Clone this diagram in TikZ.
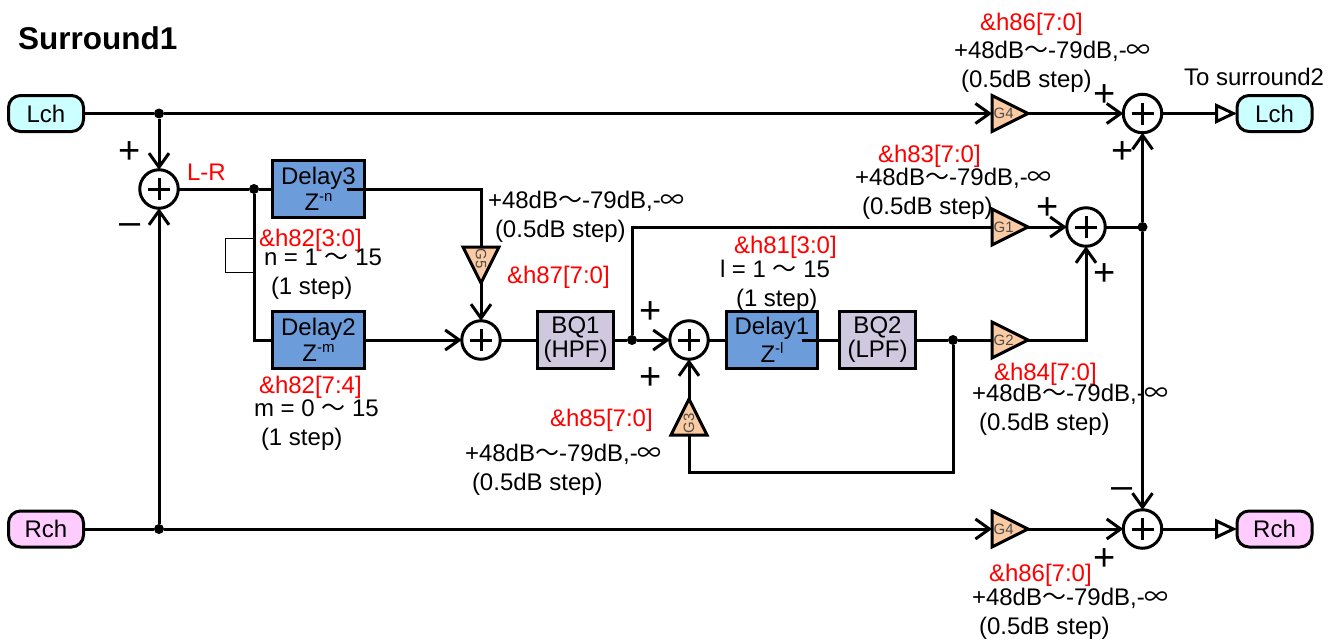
\documentclass[tikz,border=0pt]{standalone}
\usepackage{fontspec}
\setmainfont{Liberation Sans}
\newfontfamily\cjk{Noto Sans CJK JP}
\usepackage{tikz}
\usetikzlibrary{positioning,arrows.meta,shapes.geometric}

\definecolor{lchfill}{HTML}{CCFFFF}
\definecolor{rchfill}{HTML}{FFCCFF}
\definecolor{delayfill}{HTML}{6D9CDA}
\definecolor{bqfill}{HTML}{CFC8DF}
\definecolor{gainfill}{HTML}{FBCBA3}
\newcommand{\wave}{{\cjk 〜}}
\newcommand{\infsym}{{\cjk ∞}}
\newcommand{\zexp}[1]{Z\raisebox{9pt}{\fontsize{15}{15}\selectfont -#1}}
\newcommand{\dbrange}{+48dB\wave-79dB,-\infsym\\\hspace{7pt}(0.5dB step)}

\begin{document}
\begin{tikzpicture}[
  x=1pt, y=-1pt, on grid,
  line width=3pt,
  every node/.style={outer sep=0pt},
  txt/.style={font=\fontsize{24}{29}\selectfont, inner sep=0pt, align=left, anchor=west, xshift=-1pt, yshift=-2pt},
  reg/.style={txt, text=red},
  sign/.style={font=\fontsize{38}{38}\selectfont, inner sep=0pt, yshift=-2pt},
  port/.style={draw, rounded corners=12pt, minimum width=75pt, minimum height=36pt, inner sep=0pt,
               font=\fontsize{24}{26}\selectfont},
  delay/.style={draw, fill=delayfill, minimum width=91.5pt, minimum height=56.5pt, inner sep=0pt, align=center,
               font=\fontsize{24}{24}\selectfont, execute at begin node={\rule{0pt}{21pt}}},
  bq/.style={draw, fill=bqfill, minimum width=76pt, minimum height=56.5pt, inner sep=0pt, align=center,
               font=\fontsize{24}{24}\selectfont, execute at begin node={\rule{0pt}{21pt}}},
  gain/.style={draw, fill=gainfill, isosceles triangle, isosceles triangle stretches, inner sep=0pt,
               minimum width=36pt, minimum height=36pt, text=black!70, font=\fontsize{15}{15}\selectfont},
  sum/.style={draw, circle, fill=white, minimum size=38.5pt, inner sep=0pt,
               path picture={\draw ([xshift=-11pt]path picture bounding box.center) -- ([xshift=11pt]path picture bounding box.center);
                             \draw ([yshift=-11pt]path picture bounding box.center) -- ([yshift=11pt]path picture bounding box.center);}},
  dot/.style={circle, fill=black, minimum size=10pt, inner sep=0pt},
  flow/.style={-{Straight Barb[length=14pt,width=20pt]}},
  outflow/.style={-{Triangle[open,fill=white,length=22pt,width=20pt]}}
]
\useasboundingbox (0,0) rectangle (1341,642);

\node[txt, font=\fontsize{31.5}{32}\selectfont\bfseries] (title) at (19,36) {Surround1};

% input row
\node[port, fill=lchfill] (lchin) at (46,113.5) {Lch};
\node[port, fill=rchfill] (rchin) at (46,529) {Rch};
\node[dot, right=113pt of lchin] (jl) {};
\node[dot, right=113pt of rchin] (jr) {};
\node[sum, below=75.5pt of jl] (sum1) {};
\node[dot, right=95pt of sum1] (jd) {};
\node[delay, right=159.5pt of sum1] (d3) {Delay3\\[2pt]\zexp{n}};
\node[delay, below=151pt of d3] (d2) {Delay2\\[2pt]\zexp{m}};
\coordinate (d3o) at (347,189);

% middle row
\node[sum, right=162.5pt of d2] (sum2) {};
\node[bq, right=94.5pt of sum2] (bq1) {BQ1\\(HPF)};
\node[dot, right=56.5pt of bq1] (jb) {};
\node[sum, right=57pt of jb] (sum3) {};
\node[delay, right=83pt of sum3] (d1) {Delay1\\[2pt]\zexp{l}};
\node[bq, right=105.5pt of d1] (bq2) {BQ2\\(LPF)};
\node[dot, right=75.5pt of bq2] (j3) {};
\coordinate (d1o) at (802,340);
\coordinate (fb) at (689,472);

% gains
\node[gain, anchor=lower side] (g4l) at (992,113.5) {G4};
\node[gain, anchor=lower side] (g1) at (992,227) {G1};
\node[gain, anchor=lower side] (g2) at (992,340) {G2};
\node[gain, anchor=lower side] (g4r) at (992,529) {G4};
\node[gain, anchor=lower side, rotate=-90] (g5) at (481,247) {G5};
\node[gain, anchor=lower side, rotate=90] (g3) at (689,435) {G3};

% output side
\node[sum] (sum4) at (1142.5,113.5) {};
\node[sum] (sum5) at (1086,227) {};
\node[sum] (sum6) at (1142.5,529) {};
\node[dot, right=56.5pt of sum5] (j5) {};
\node[port, fill=lchfill] (lchout) at (1274.5,113.5) {Lch};
\node[port, fill=rchfill] (rchout) at (1274.5,529) {Rch};

\draw (lchin) -- (jl);
\draw[flow] (jl) -- (g4l.lower side);
\draw[flow] (jl) -- (sum1);
\draw (rchin) -- (jr);
\draw[flow] (jr) -- (g4r.lower side);
\draw[flow] (jr) -- (sum1);
\draw (sum1) -- (jd) -- (d3);
\draw (jd) |- (d2);
\draw (d3o) -| (g5.lower side);
\draw[flow] (g5.apex) -- (sum2);
\draw[flow] (d2) -- (sum2);
\draw (sum2) -- (bq1);
\draw (bq1) -- (jb);
\draw[flow] (jb) -- (sum3);
\draw (jb) |- (g1.lower side);
\draw (sum3) -- (d1);
\draw (d1o) -- (bq2);
\draw (bq2) -- (j3);
\draw (j3) -- (g2.lower side);
\draw (j3) |- (fb) -- (g3.lower side);
\draw[flow] (g3.apex) -- (sum3);
\draw[flow] (g1.apex) -- (sum5);
\draw[flow] (g2.apex) -| (sum5);
\draw (sum5) -- (j5);
\draw[flow] (j5) -- (sum4);
\draw[flow] (j5) -- (sum6);
\draw[flow] (g4l.apex) -- (sum4);
\draw[flow] (g4r.apex) -- (sum6);
\draw[outflow] (sum4) -- (lchout);
\draw[outflow] (sum6) -- (rchout);

% small loop beside the delay line
\draw[line width=1pt] (254,238.5) -- (225.5,238.5) -- (225.5,272) -- (254,272);

% signs
\node[sign] (s1) at (130,151) {+};
\node[sign] (s2) at (130,227) {–};
\node[sign] (s3) at (651,311) {+};
\node[sign] (s4) at (651,377) {+};
\node[sign] (s5) at (1105,94) {+};
\node[sign] (s6) at (1123,151) {+};
\node[sign] (s7) at (1048,207) {+};
\node[sign] (s8) at (1105,273) {+};
\node[sign] (s9) at (1122,491) {–};
\node[sign] (s10) at (1105,558) {+};

% labels
\node[reg] (lr) at (188,170) {L-R};
\node[txt] (tosur) at (1185,75) {To surround2};
\node[reg] (r86a) at (981,22) {\&h86[7:0]};
\node[txt] (t86a) at (955,65) {\dbrange};
\node[reg] (r83) at (879,154) {\&h83[7:0]};
\node[txt] (t83) at (856,192) {\dbrange};
\node[reg] (r87) at (508,275) {\&h87[7:0]};
\node[txt] (t87) at (489,215) {\dbrange};
\node[reg] (r85) at (551,418) {\&h85[7:0]};
\node[txt] (t85) at (466,468) {\dbrange};
\node[reg] (r84) at (995,372) {\&h84[7:0]};
\node[txt] (t84) at (973,408) {\dbrange};
\node[reg] (r86b) at (990,573) {\&h86[7:0]};
\node[txt] (t86b) at (973,612) {\dbrange};
\node[reg] (r82a) at (260,238) {\&h82[3:0]};
\node[txt] (tn) at (265,272.5) {n = 1 \wave{} 15\\\hspace{7pt}(1 step)};
\node[reg] (r82b) at (260,385) {\&h82[7:4]};
\node[txt] (tm) at (255,423.5) {m = 0 \wave{} 15\\\hspace{7pt}(1 step)};
\node[reg] (r81) at (735,245) {\&h81[3:0]};
\node[txt] (tl) at (721,283.5) {l = 1 \wave{} 15\\\hspace{16pt}(1 step)};
\end{tikzpicture}
\end{document}
